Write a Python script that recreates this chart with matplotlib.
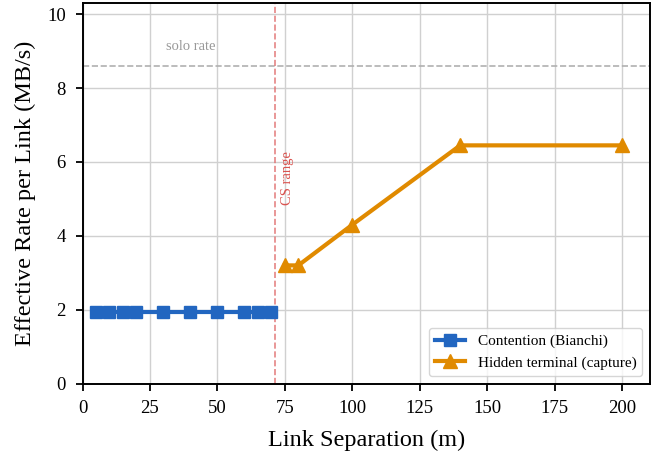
import matplotlib
matplotlib.use("Agg")
import matplotlib.pyplot as plt

plt.rcParams['font.family'] = ['Liberation Serif', 'DejaVu Serif']

# Contention region (Bianchi model)
sep_cont = [5, 10, 15, 20, 30, 40, 50, 60, 65, 70]
rate_cont = [1.95, 1.95, 1.95, 1.95, 1.95, 1.95, 1.95, 1.95, 1.95, 1.95]

# Hidden terminal region (capture)
sep_hidden = [75, 80, 100, 140, 200]
rate_hidden = [3.2, 3.2, 4.3, 6.45, 6.45]

solo_rate = 8.6
cs_range = 71.5

fig, ax = plt.subplots(figsize=(6.6, 4.55), dpi=100)
fig.subplots_adjust(left=0.125, right=0.985, top=0.993, bottom=0.157)

ax.axhline(solo_rate, color='#b0b0b0', linestyle='--', linewidth=1.2)
ax.text(40, solo_rate + 0.35, 'solo rate', color='#999999', fontsize=10.5, ha='center', va='bottom')

ax.axvline(cs_range, color='#e07070', linestyle='--', linewidth=1.2, alpha=0.85)
ax.text(cs_range + 2, 6.3, 'CS range', color='#d9534f', fontsize=10.5, rotation=90, ha='left', va='top')

ax.plot(sep_cont, rate_cont, color='#2266c0', marker='s', markersize=8, linewidth=3,
        label='Contention (Bianchi)')
ax.plot(sep_hidden, rate_hidden, color='#e08a00', marker='^', markersize=10, linewidth=3,
        label='Hidden terminal (capture)')

ax.set_xlim(0, 210.4)
ax.set_ylim(0, 10.3)
ax.set_xlabel('Link Separation (m)', fontsize=17.5, labelpad=9)
ax.set_ylabel('Effective Rate per Link (MB/s)', fontsize=17.5, labelpad=8)
ax.tick_params(labelsize=13.5, width=1.3, length=5, pad=7)
for sp in ax.spines.values():
    sp.set_linewidth(1.4)
ax.grid(True, color='#d0d0d0', linewidth=1)
ax.set_axisbelow(True)
ax.legend(loc='lower right', fontsize=11)

fig.savefig('out.png', dpi=100)
